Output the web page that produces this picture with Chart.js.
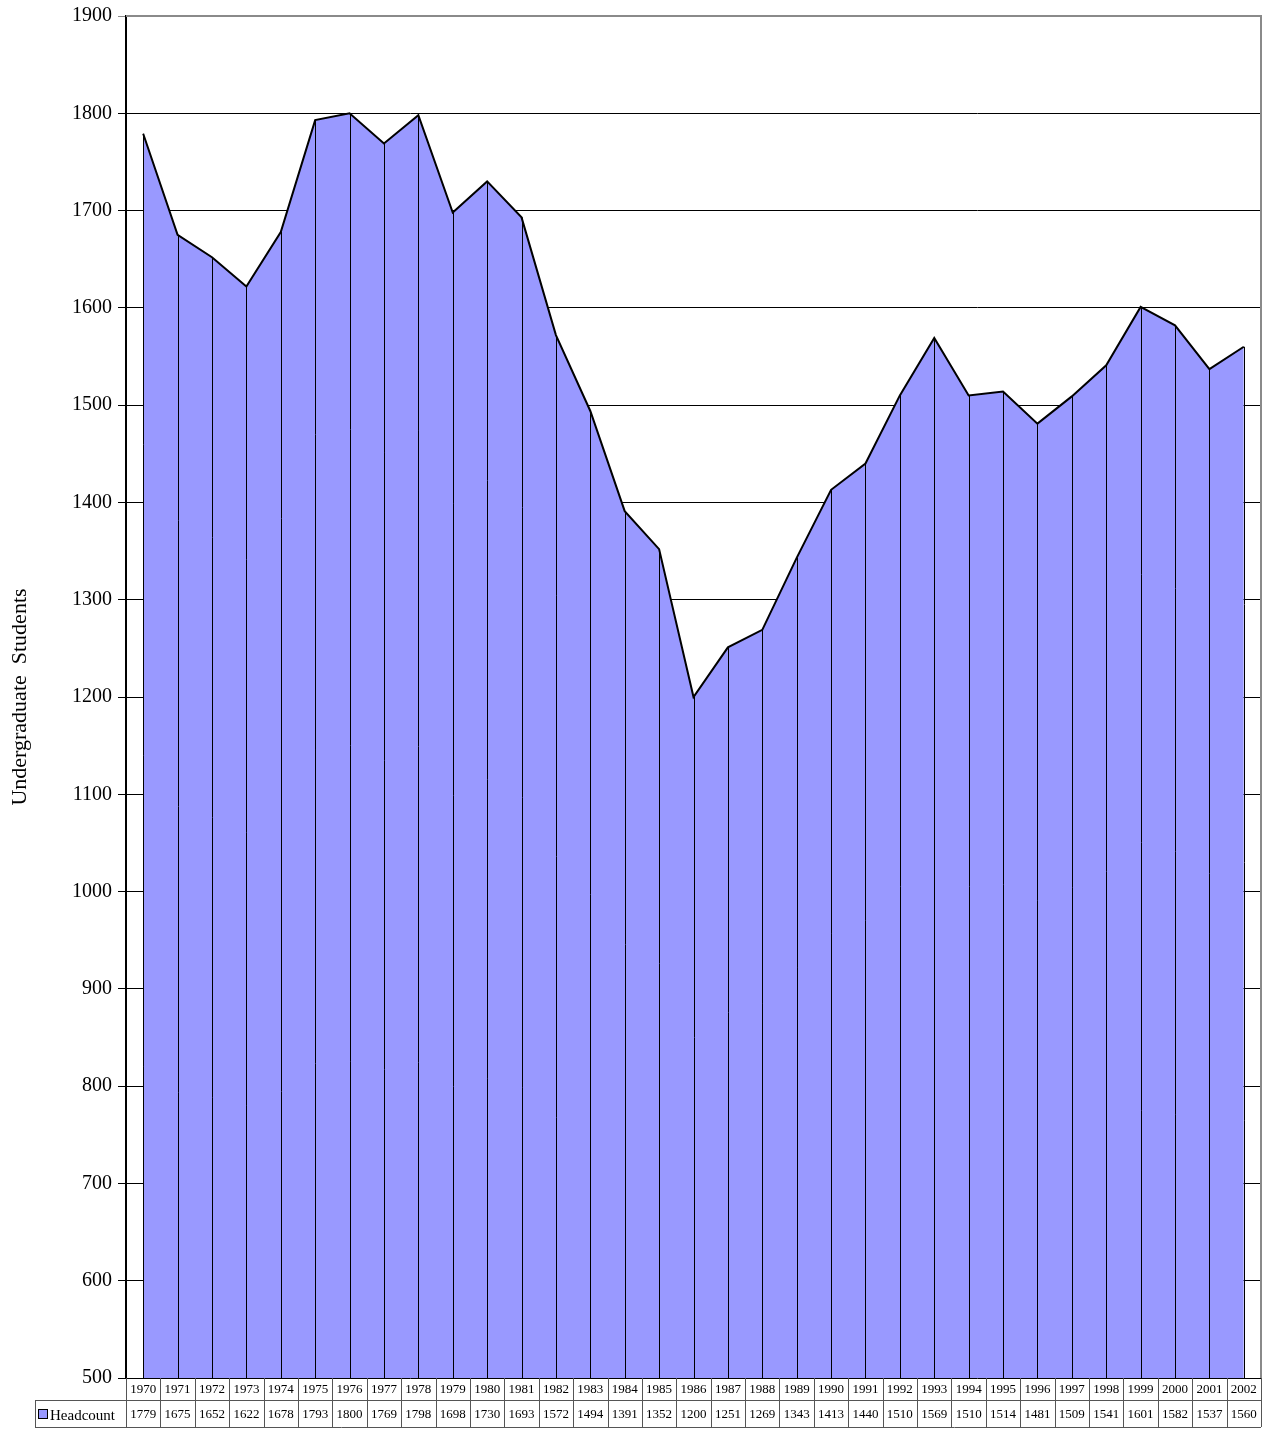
<!DOCTYPE html>
<html>
<head>
<meta charset="utf-8">
<script src="https://cdn.jsdelivr.net/npm/chart.js@4.4.0/dist/chart.umd.min.js"></script>
<style>
  html, body { margin: 0; padding: 0; background: #fff; }
  #wrap { width: 1267px; height: 1429px; }
</style>
</head>
<body>
<div id="wrap"><canvas id="chart" width="1267" height="1429"></canvas></div>
<script>
const years = ["1970","1971","1972","1973","1974","1975","1976","1977","1978","1979","1980",
  "1981","1982","1983","1984","1985","1986","1987","1988","1989","1990","1991","1992","1993",
  "1994","1995","1996","1997","1998","1999","2000","2001","2002"];
const headcount = [1779,1675,1652,1622,1678,1793,1800,1769,1798,1698,1730,
  1693,1572,1494,1391,1352,1200,1251,1269,1343,1413,1440,1510,1569,
  1510,1514,1481,1509,1541,1601,1582,1537,1560];
const seriesName = "Headcount";
const yTitle = "Undergraduate  Students";

const serif = "'Liberation Serif', 'DejaVu Serif', serif";

// vertical drop lines from each point down to the axis
const dropLines = {
  id: "dropLines",
  afterDatasetsDraw(chart) {
    const ctx = chart.ctx;
    const pts = chart.getDatasetMeta(0).data;
    const bottom = chart.chartArea.bottom;
    ctx.save();
    ctx.strokeStyle = "#000";
    ctx.lineWidth = 1;
    pts.forEach(p => {
      const x = Math.round(p.x) + 0.5;
      ctx.beginPath();
      ctx.moveTo(x, p.y);
      ctx.lineTo(x, bottom);
      ctx.stroke();
    });
    ctx.restore();
  }
};

// data table under the plot + frame + axis title
const dataTable = {
  id: "dataTable",
  afterDraw(chart) {
    const ctx = chart.ctx;
    const xs = chart.scales.x;
    const area = chart.chartArea;
    const step = (area.right - area.left) / years.length;
    const row1Top = area.bottom, row1Bot = area.bottom + 22;
    const row2Bot = row1Bot + 27;
    const legendLeft = 35;
    ctx.save();

    // right and top frame
    ctx.strokeStyle = "#8a8a8a";
    ctx.lineWidth = 2;
    ctx.beginPath();
    ctx.moveTo(area.left, area.top);
    ctx.lineTo(area.right, area.top);
    ctx.lineTo(area.right, area.bottom);
    ctx.stroke();

    ctx.lineWidth = 1;
    ctx.strokeStyle = "#555";
    // horizontal table lines
    [[area.left, row1Bot], [legendLeft, row1Bot], [legendLeft, row2Bot]].forEach(([x0, y]) => {
      ctx.beginPath();
      ctx.moveTo(x0, y + 0.5);
      ctx.lineTo(area.right, y + 0.5);
      ctx.stroke();
    });
    // vertical cell borders
    for (let i = 0; i <= years.length; i++) {
      const x = Math.round(xs.getPixelForValue(i) - step / 2) + 0.5;
      ctx.beginPath();
      ctx.moveTo(x, row1Top);
      ctx.lineTo(x, row2Bot);
      ctx.stroke();
    }
    ctx.beginPath();
    ctx.moveTo(legendLeft + 0.5, row1Bot);
    ctx.lineTo(legendLeft + 0.5, row2Bot);
    ctx.stroke();

    // texts
    ctx.fillStyle = "#000";
    ctx.font = "13px " + serif;
    ctx.textAlign = "center";
    ctx.textBaseline = "middle";
    years.forEach((y, i) => {
      const x = xs.getPixelForValue(i);
      ctx.fillText(y, x, (row1Top + row1Bot) / 2 + 1);
      ctx.fillText(String(headcount[i]), x, (row1Bot + row2Bot) / 2 + 1);
    });
    // legend key
    ctx.fillStyle = "#9999ff";
    ctx.fillRect(39, 1410, 8, 8);
    ctx.strokeStyle = "#000";
    ctx.strokeRect(38.5, 1409.5, 9, 9);
    ctx.fillStyle = "#000";
    ctx.textAlign = "left";
    ctx.font = "15px " + serif;
    ctx.fillText(seriesName, 50, (row1Bot + row2Bot) / 2 + 3);

    // y axis title
    ctx.translate(20, (area.top + area.bottom) / 2);
    ctx.rotate(-Math.PI / 2);
    ctx.textAlign = "center";
    ctx.font = "22px " + serif;
    ctx.fillText(yTitle, 0, 0);
    ctx.restore();
  }
};

new Chart(document.getElementById("chart").getContext("2d"), {
  type: "line",
  data: {
    labels: years,
    datasets: [{
      label: seriesName,
      data: headcount,
      borderColor: "#000",
      borderWidth: 2,
      backgroundColor: "#9999ff",
      fill: "start",
      tension: 0,
      pointRadius: 0
    }]
  },
  options: {
    responsive: false,
    animation: { duration: 0 },
    layout: { padding: { top: 16, right: 6, bottom: 51, left: 0 } },
    plugins: { legend: { display: false }, tooltip: { enabled: false } },
    scales: {
      x: {
        display: false,
        offset: true
      },
      y: {
        min: 500,
        max: 1900,
        afterFit(scale) { scale.width = 126; },
        ticks: {
          stepSize: 100,
          color: "#000",
          font: { family: serif, size: 20, lineHeight: 1 },
          padding: 6,
          callback: v => String(v)
        },
        grid: {
          color: ctx => ctx.tick && ctx.tick.value === 1900 ? "#8a8a8a" : "#000",
          tickLength: 8,
          lineWidth: 1
        },
        border: { color: "#000", width: 2 }
      }
    }
  },
  plugins: [dropLines, dataTable]
});
</script>
</body>
</html>
